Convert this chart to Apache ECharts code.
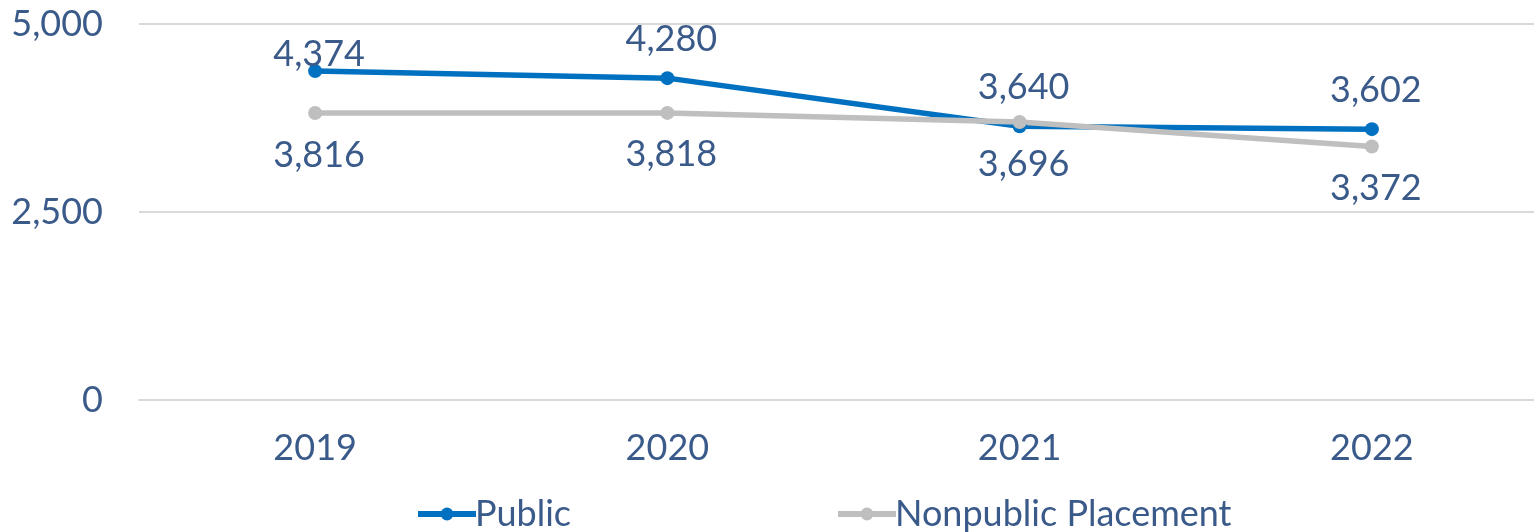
<!DOCTYPE html>
<html><head><meta charset="utf-8">
<style>html,body{margin:0;padding:0;background:#fff}#c{width:1534px;height:532px}</style>
<script src="https://cdn.jsdelivr.net/npm/echarts@6/dist/echarts.min.js"></script>
</head><body><div id="c"></div>
<script>
const categories = ['2019', '2020', '2021', '2022'];
const publicValues = [4374, 4280, 3640, 3602];
const nonpublicValues = [3816, 3818, 3696, 3372];
const seriesNames = ['Public', 'Nonpublic Placement'];

const textColor = '#3A5A8A';
const font = 'Lato';
const fmt = v => v.toLocaleString('en-US');

const chart = echarts.init(document.getElementById('c'));
chart.setOption({
  animation: false,
  grid: {left: 139, width: 1409, top: 24, height: 376, outerBoundsMode: 'none', containLabel: false},
  xAxis: {
    type: 'category', data: categories,
    axisLine: {lineStyle: {color: '#D9D9D9', width: 2}},
    axisTick: {show: false},
    axisLabel: {color: textColor, fontFamily: font, fontSize: 36, margin: 30}
  },
  yAxis: {
    type: 'value', min: 0, max: 5000, interval: 2500,
    axisLine: {show: false}, axisTick: {show: false},
    splitLine: {lineStyle: {color: '#D9D9D9', width: 2}},
    axisLabel: {color: textColor, fontFamily: font, fontSize: 36, margin: 36, formatter: fmt}
  },
  legend: {
    bottom: -5, left: 410, itemGap: 264, itemWidth: 58, itemHeight: 16,
    lineStyle: {width: 6},
    textStyle: {color: textColor, fontFamily: font, fontSize: 36, padding: [0, 0, 0, -6]},
    data: seriesNames
  },
  series: [
    {
      name: seriesNames[0], type: 'line', data: publicValues.map((v, i) => ({
        value: v,
        label: {offset: [4, i === 0 ? -17 : -39]}
      })),
      color: '#0070C0', symbol: 'circle', symbolSize: 14,
      lineStyle: {width: 5.5},
      label: {show: true, position: 'inside', color: textColor, fontFamily: font, fontSize: 36, formatter: p => fmt(p.value)}
    },
    {
      name: seriesNames[1], type: 'line', data: nonpublicValues,
      color: '#BFBFBF', symbol: 'circle', symbolSize: 14,
      lineStyle: {width: 5.5},
      label: {show: true, position: 'inside', offset: [4, 42], color: textColor, fontFamily: font, fontSize: 36, formatter: p => fmt(p.value)}
    }
  ]
});
</script></body></html>
